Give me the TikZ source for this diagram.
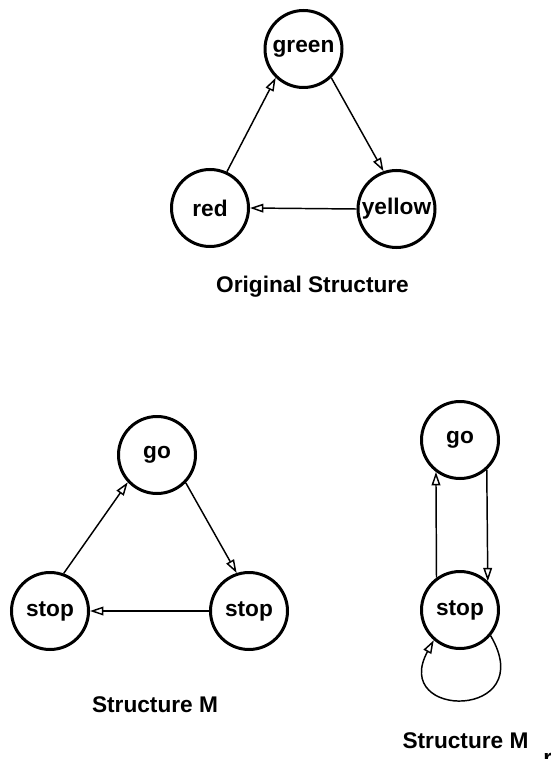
\documentclass[tikz,border=0pt]{standalone}
\usepackage{fontspec}
\setmainfont{Liberation Sans}
\usetikzlibrary{arrows.meta}
\begin{document}
\begin{tikzpicture}[x=0.75pt,y=-0.75pt,
  state/.style={circle,draw,line width=2.25pt,minimum size=57.75pt,inner sep=0pt,
    font=\fontsize{17}{20}\selectfont\bfseries},
  edge/.style={line width=1.1pt,-{Triangle[open,length=10pt,width=6.5pt]}},
  caption/.style={font=\fontsize{17}{20}\selectfont\bfseries,inner sep=0pt,anchor=base}]
\useasboundingbox (0,0) rectangle (550,759);
% Original structure
\node[state] (green) at (303.5,49) {green};
\node[state] (red) at (210,208) {red};
\node[state] (yellow) at (396.5,209) {yellow};
\draw[edge] (green.-46) -- (yellow.109);
\draw[edge] (red.65) -- (green.226);
\draw[edge] (yellow.180) -- (red.0);
\node[caption] (cap1) at (312.5,292) {Original Structure};
% Structure M
\node[state] (go1) at (157,455) {go};
\node[state] (stopL) at (50,611) {stop};
\node[state] (stopR) at (249,611) {stop};
\draw[edge] (stopL.70) -- (go1.223);
\draw[edge] (go1.-44) -- (stopR.108);
\draw[edge] (stopR.180) -- (stopL.0);
\node[caption] (cap2) at (155,712) {Structure M};
% Structure M_r
\node[state] (go2) at (460,440) {go};
\node[state] (stop2) at (460,610) {stop};
\draw[edge] (stop2.126) -- (go2.233);
\draw[edge] (go2.-48) -- (stop2.46);
\draw[edge] (stop2.-40) .. controls (540,720) and (390,720) .. (stop2.229);
\node[caption] (cap3) at (465.5,748) {Structure M};
\node[caption,anchor=base west] (cap3r) at (543,765) {r};
\end{tikzpicture}
\end{document}
